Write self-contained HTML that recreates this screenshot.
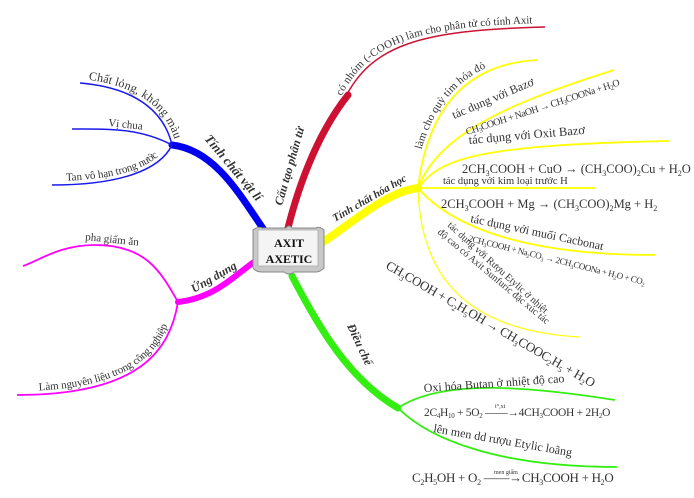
<!DOCTYPE html>
<html><head><meta charset="utf-8"><style>
html,body{margin:0;padding:0;background:#fff;}
svg{display:block;font-family:"Liberation Serif",serif;}
text{fill:#333;}
</style></head><body>
<svg width="694" height="498" viewBox="0 0 694 498" xmlns="http://www.w3.org/2000/svg">
<defs>
<path id="pRed" d="M345,98 C372,45 420,30 545,27"/>
<path id="pChat" d="M80,83 C140,88 165,115 172,145"/>
<path id="pTan" d="M52,185 C120,185 160,170 172,145"/>
<path id="pLam" d="M17,395 C140,395 170,350 178,302"/>
<path id="pQuy" d="M418,188 C425,130 450,65 537,60"/>
</defs>

<!-- Blue branch -->
<path d="M264,230 C240,195 215,150 172,145" stroke="#0000ee" stroke-width="7" fill="none" stroke-linecap="round"/>
<path d="M172,145 C165,115 140,88 80,83" stroke="#1a1aee" stroke-width="1.5" fill="none"/>
<path d="M172,145 C140,128 110,129 72,129" stroke="#1a1aee" stroke-width="1.5" fill="none"/>
<path d="M172,145 C160,170 120,185 52,185" stroke="#1a1aee" stroke-width="1.5" fill="none"/>
<text font-size="12"><textPath href="#pChat" startOffset="8"><tspan dy="-4">Chất lỏng, không màu</tspan></textPath></text>
<text font-size="11" x="108" y="126" transform="rotate(6 108 126)">Vị chua</text>
<text font-size="11"><textPath href="#pTan" startOffset="14"><tspan dy="-4">Tan vô hạn trong nước</tspan></textPath></text>
<text font-size="13" font-weight="bold" font-style="italic" transform="translate(204,139) rotate(50)">Tính chất vật lí</text>

<!-- Red branch -->
<path d="M288,228 C300,180 320,130 348,95" stroke="#cc1133" stroke-width="7" fill="none" stroke-linecap="round"/>
<path d="M345,98 C372,45 420,30 545,27" stroke="#cc1133" stroke-width="1.5" fill="none"/>
<text font-size="12" transform="translate(282,206) rotate(-74)" font-style="italic" font-weight="bold">Cấu tạo phân tử</text>
<text font-size="11"><textPath href="#pRed" startOffset="0"><tspan dy="-4">có nhóm (-COOH) làm cho phân tử có tính Axit</tspan></textPath></text>

<!-- Yellow branch -->
<path d="M320,244 C350,225 385,192 418,188" stroke="#ffff00" stroke-width="8" fill="none" stroke-linecap="round"/>
<g stroke="#ffff00" stroke-width="1.8" fill="none">
<path d="M418,188 C425,130 450,65 537,60"/>
<path d="M418,188 C440,130 520,100 614,70"/>
<path d="M418,188 C440,160 470,145 669,141"/>
<path d="M418,188 L595,188"/>
<path d="M418,188 C450,225 520,255 655,255"/>
<path d="M418,188 C420,260 450,330 580,337" stroke-width="1.2"/>
</g>
<text font-size="11" font-weight="bold" font-style="italic" transform="translate(335,222) rotate(-30)">Tính chất hóa học</text>
<text font-size="11"><textPath href="#pQuy" startOffset="38"><tspan dy="-4">làm cho quỳ tím hóa đỏ</tspan></textPath></text>
<text font-size="12" transform="translate(454,119) rotate(-23)">tác dụng với Bazơ</text>
<text font-size="10" transform="translate(467,135) rotate(-18)" letter-spacing="-0.5">CH<tspan font-size="7" dy="2">3</tspan><tspan dy="-2">COOH + NaOH → CH</tspan><tspan font-size="7" dy="2">3</tspan><tspan dy="-2">COONa + H</tspan><tspan font-size="7" dy="2">2</tspan><tspan dy="-2">O</tspan></text>
<text font-size="12.5" transform="translate(469,144) rotate(-5)">tác dụng với Oxit Bazơ</text>
<text font-size="12.5" x="462" y="173">2CH<tspan font-size="8" dy="3">3</tspan><tspan dy="-3">COOH + CuO → (CH</tspan><tspan font-size="8" dy="3">3</tspan><tspan dy="-3">COO)</tspan><tspan font-size="8" dy="3">2</tspan><tspan dy="-3">Cu + H</tspan><tspan font-size="8" dy="3">2</tspan><tspan dy="-3">O</tspan></text>
<text font-size="10.5" x="443" y="184">tác dụng với kim loại trước H</text>
<text font-size="12.5" x="441" y="208">2CH<tspan font-size="8" dy="3">3</tspan><tspan dy="-3">COOH + Mg → (CH</tspan><tspan font-size="8" dy="3">3</tspan><tspan dy="-3">COO)</tspan><tspan font-size="8" dy="3">2</tspan><tspan dy="-3">Mg + H</tspan><tspan font-size="8" dy="3">2</tspan></text>
<text font-size="12" transform="translate(470,222) rotate(12)">tác dụng với muối Cacbonat</text>
<text font-size="9" transform="translate(468,241) rotate(14)" letter-spacing="-0.4">2CH<tspan font-size="6" dy="2">3</tspan><tspan dy="-2">COOH + Na</tspan><tspan font-size="6" dy="2">2</tspan><tspan dy="-2">CO</tspan><tspan font-size="6" dy="2">3</tspan><tspan dy="-2"> → 2CH</tspan><tspan font-size="6" dy="2">3</tspan><tspan dy="-2">COONa + H</tspan><tspan font-size="6" dy="2">2</tspan><tspan dy="-2">O + CO</tspan><tspan font-size="6" dy="2">2</tspan></text>
<text font-size="10" transform="translate(447,226) rotate(42)">tác dụng với Rượu Etylic ở nhiệt</text>
<text font-size="10" transform="translate(437,233) rotate(40)">độ cao có Axit Sunfuric đặc xúc tác</text>
<text font-size="13" transform="translate(385,268) rotate(30)" letter-spacing="-0.3">CH<tspan font-size="8" dy="3">3</tspan><tspan dy="-3">COOH + C</tspan><tspan font-size="8" dy="3">2</tspan><tspan dy="-3">H</tspan><tspan font-size="8" dy="3">5</tspan><tspan dy="-3">OH → CH</tspan><tspan font-size="8" dy="3">3</tspan><tspan dy="-3">COOC</tspan><tspan font-size="8" dy="3">2</tspan><tspan dy="-3">H</tspan><tspan font-size="8" dy="3">5</tspan><tspan dy="-3"> + H</tspan><tspan font-size="8" dy="3">2</tspan><tspan dy="-3">O</tspan></text>

<!-- Green branch -->
<path d="M292,276 C320,330 350,380 398,408" stroke="#33ee11" stroke-width="7" fill="none" stroke-linecap="round"/>
<path d="M398,408 C440,380 520,385 615,400" stroke="#33ee11" stroke-width="1.8" fill="none"/>
<path d="M398,408 C430,440 500,467 617,467" stroke="#33ee11" stroke-width="1.8" fill="none"/>
<text font-size="12" font-weight="bold" font-style="italic" transform="translate(347,326) rotate(65)">Điều chế</text>
<text font-size="12" transform="translate(424,392) rotate(-4)">Oxi hóa Butan ở nhiệt độ cao</text>
<text font-size="11.5" x="424" y="416" letter-spacing="-0.3">2C<tspan font-size="7" dy="2">4</tspan><tspan dy="-2">H</tspan><tspan font-size="7" dy="2">10</tspan><tspan dy="-2"> + 5O</tspan><tspan font-size="7" dy="2">2</tspan><tspan dy="-2"> ——→4CH</tspan><tspan font-size="7" dy="2">3</tspan><tspan dy="-2">COOH + 2H</tspan><tspan font-size="7" dy="2">2</tspan><tspan dy="-2">O</tspan></text>
<text font-size="6" x="495" y="408">t°,xt</text>
<text font-size="12" transform="translate(433,432) rotate(10)">lên men dd rượu Etylic loãng</text>
<text font-size="13" x="412" y="482" letter-spacing="-0.3">C<tspan font-size="8" dy="3">2</tspan><tspan dy="-3">H</tspan><tspan font-size="8" dy="3">5</tspan><tspan dy="-3">OH + O</tspan><tspan font-size="8" dy="3">2</tspan><tspan dy="-3"> ——→CH</tspan><tspan font-size="8" dy="3">3</tspan><tspan dy="-3">COOH + H</tspan><tspan font-size="8" dy="3">2</tspan><tspan dy="-3">O</tspan></text>
<text font-size="6" x="494" y="474">men giấm</text>

<!-- Magenta branch -->
<path d="M254,262 C235,275 215,298 178,302" stroke="#ff00ff" stroke-width="6" fill="none" stroke-linecap="round"/>
<path d="M178,302 C160,270 145,245 95,245 C60,245 40,260 23,266" stroke="#ff00ff" stroke-width="1.8" fill="none"/>
<path d="M17,395 C140,395 170,350 178,302" stroke="#ff00ff" stroke-width="1.8" fill="none"/>
<text font-size="12" font-weight="bold" font-style="italic" transform="translate(194,293) rotate(-30)">Ứng dụng</text>
<text font-size="11" transform="translate(85,240) rotate(6)">pha giấm ăn</text>
<text font-size="11"><textPath href="#pLam" startOffset="22"><tspan dy="-4">Làm nguyên liệu trong công nghiệp</tspan></textPath></text>

<!-- Central book -->
<g>
<path d="M253,230 Q258,226 262,228 L286,228 Q289,224 292,228 L316,228 Q320,226 324,230 L324,268 Q320,272 316,272 L294,272 Q289,276 284,272 L262,272 Q256,272 253,268 Z" fill="#c8c8c8" stroke="#888" stroke-width="1"/>
<path d="M258,230 L318,230 L318,266 L258,266 Z" fill="#f4f4f4" stroke="#aaa" stroke-width="0.8"/>
<text x="289" y="247" font-size="12" font-weight="bold" text-anchor="middle" style="fill:#111">AXIT</text>
<text x="289" y="263" font-size="12" font-weight="bold" text-anchor="middle" style="fill:#111">AXETIC</text>
</g>
</svg>
</body></html>
